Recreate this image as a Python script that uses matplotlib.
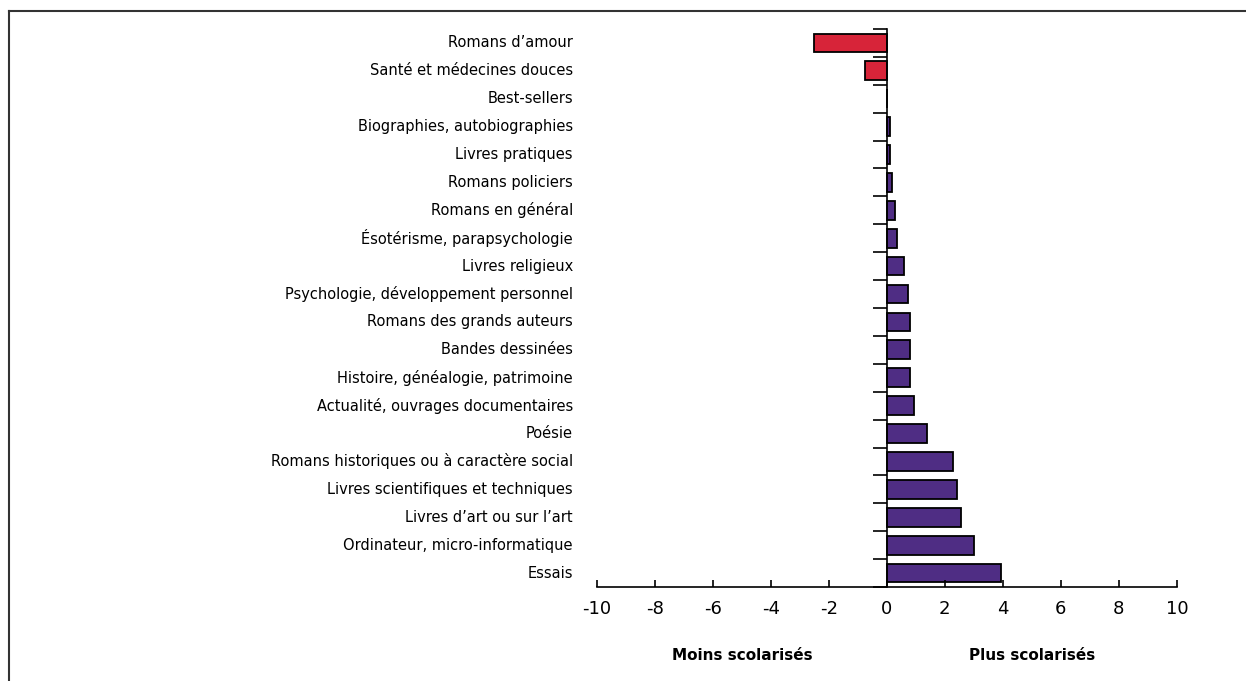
import matplotlib.pyplot as plt
from matplotlib.lines import Line2D

categories = [
    "Romans d\u2019amour",
    "Santé et médecines douces",
    "Best-sellers",
    "Biographies, autobiographies",
    "Livres pratiques",
    "Romans policiers",
    "Romans en général",
    "Ésotérisme, parapsychologie",
    "Livres religieux",
    "Psychologie, développement personnel",
    "Romans des grands auteurs",
    "Bandes dessinées",
    "Histoire, généalogie, patrimoine",
    "Actualité, ouvrages documentaires",
    "Poésie",
    "Romans historiques ou à caractère social",
    "Livres scientifiques et techniques",
    "Livres d\u2019art ou sur l\u2019art",
    "Ordinateur, micro-informatique",
    "Essais",
]
values = [-2.52, -0.76, 0.0, 0.1, 0.1, 0.17, 0.28, 0.34, 0.59, 0.72,
          0.79, 0.79, 0.79, 0.93, 1.4, 2.27, 2.41, 2.56, 3.02, 3.95]
xticks = [-10, -8, -6, -4, -2, 0, 2, 4, 6, 8, 10]

RED = "#d72439"
PURPLE = "#4f2d84"

fig = plt.figure(figsize=(12.46, 6.81), dpi=100)
ax = fig.add_axes([0.479, 0.138, 0.4655, 0.8195])

colors = [RED if v < 0 else PURPLE for v in values]
y = list(range(len(categories)))
ax.barh(y, values, height=0.67, color=colors, edgecolor="black", linewidth=1.3)

ax.set_xlim(-10, 10)
ax.set_ylim(len(categories) - 0.5, -0.5)

for s in ["top", "right"]:
    ax.spines[s].set_visible(False)
ax.spines["left"].set_position(("data", 0))
ax.spines["left"].set_linewidth(1.2)
ax.spines["bottom"].set_linewidth(1.2)

ax.set_yticks([])
ax.set_yticks([i - 0.5 for i in range(len(categories) + 1)], minor=True)
ax.tick_params(axis="y", which="minor", direction="out", length=10, width=1.2)

ax.set_xticks(xticks)
ax.set_xticklabels([str(t) for t in xticks], fontsize=13)
ax.tick_params(axis="x", direction="in", length=5, width=1.2, pad=9)

for i, c in enumerate(categories):
    ax.text(-10.83, i, c, ha="right", va="center", fontsize=10.5)

ax.text(-5, len(categories) + 1.95, "Moins scolarisés", ha="center", va="center",
        fontsize=11, fontweight="bold")
ax.text(5, len(categories) + 1.95, "Plus scolarisés", ha="center", va="center",
        fontsize=11, fontweight="bold")

# cadre
fig.add_artist(Line2D([0.0072, 0.0072], [0.0, 0.984], color="#333333", lw=1.5,
                      transform=fig.transFigure))
fig.add_artist(Line2D([0.0072, 1.0], [0.984, 0.984], color="#333333", lw=1.5,
                      transform=fig.transFigure))

plt.savefig("out.png", dpi=100)
